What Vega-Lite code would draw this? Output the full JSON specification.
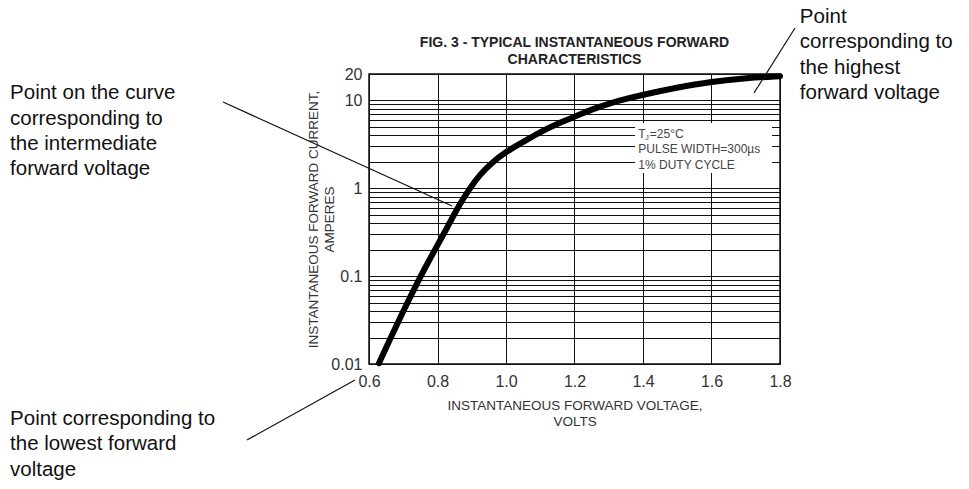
{
  "$schema": "https://vega.github.io/schema/vega-lite/v6.json",
  "width": 411,
  "height": 290,
  "autosize": "none",
  "padding": {"left": 369, "top": 74, "right": 189, "bottom": 125},
  "background": "white",
  "config": {
    "view": {"stroke": "#111", "strokeWidth": 1.5},
    "font": "Liberation Sans"
  },
  "datasets": {
    "curve": [
      {"v": 0.629, "i": 0.0102},
      {"v": 0.665, "i": 0.0205},
      {"v": 0.70, "i": 0.040},
      {"v": 0.744, "i": 0.089},
      {"v": 0.773, "i": 0.145},
      {"v": 0.80, "i": 0.225},
      {"v": 0.832, "i": 0.38},
      {"v": 0.861, "i": 0.62},
      {"v": 0.894, "i": 1.0},
      {"v": 0.923, "i": 1.42},
      {"v": 0.958, "i": 1.95},
      {"v": 1.0, "i": 2.61},
      {"v": 1.046, "i": 3.3},
      {"v": 1.098, "i": 4.35},
      {"v": 1.15, "i": 5.45},
      {"v": 1.2, "i": 6.5},
      {"v": 1.25, "i": 7.9},
      {"v": 1.303, "i": 9.3},
      {"v": 1.35, "i": 10.4},
      {"v": 1.40, "i": 11.6},
      {"v": 1.498, "i": 14.0},
      {"v": 1.60, "i": 16.4},
      {"v": 1.704, "i": 18.0},
      {"v": 1.80, "i": 18.9}
    ],
    "box": [{"v": 1.3767, "v2": 1.7766, "i": 5.54, "i2": 1.494}],
    "legend": [{"v": 1.3863, "i": 3.72}],
    "leaders": [
      {"v": 0.1737, "i": 9.60, "v2": 0.8423, "i2": 0.629},
      {"v": 1.8438, "i": 66.8, "v2": 1.7241, "i2": 12.16},
      {"v": 0.2438, "i": 0.001365, "v2": 0.5591, "i2": 0.00658}
    ],
    "notes": [
      {"v": -0.448, "i": 10.3, "t": "Point on the curve\ncorresponding to\nthe intermediate\nforward voltage"},
      {"v": 1.858, "i": 76.1, "t": "Point\ncorresponding to\nthe highest\nforward voltage"},
      {"v": -0.448, "i": 0.00202, "t": "Point corresponding to\nthe lowest forward\nvoltage"}
    ],
    "title": [{"v": 1.2, "i": 40.07, "t": "FIG. 3 - TYPICAL INSTANTANEOUS FORWARD\nCHARACTERISTICS"}]
  },
  "encoding": {
    "x": {
      "field": "v",
      "type": "quantitative",
      "scale": {"domain": [0.6, 1.8], "nice": false, "zero": false},
      "axis": {
        "values": [0.6, 0.8, 1.0, 1.2, 1.4, 1.6, 1.8],
        "format": ".1f",
        "grid": true,
        "gridColor": "#111",
        "gridOpacity": 1,
        "gridWidth": 1,
        "ticks": false,
        "domain": false,
        "labelFlush": false,
        "labelOverlap": false,
        "labelFont": "Liberation Sans",
        "labelFontSize": 16,
        "labelColor": "#333",
        "labelPadding": 9,
        "title": ["INSTANTANEOUS FORWARD VOLTAGE,", "VOLTS"],
        "titleFont": "Liberation Sans",
        "titleFontSize": 13.5,
        "titleFontWeight": "normal",
        "titleColor": "#333",
        "titleLineHeight": 16,
        "titlePadding": 9
      }
    },
    "y": {
      "field": "i",
      "type": "quantitative",
      "scale": {"type": "log", "domain": [0.01, 20], "nice": false},
      "axis": {
        "values": [0.01, 0.02, 0.03, 0.04, 0.05, 0.06, 0.07, 0.08, 0.09, 0.1, 0.2, 0.3, 0.4, 0.5, 0.6, 0.7, 0.8, 0.9, 1, 2, 3, 4, 5, 6, 7, 8, 9, 10, 20],
        "labelExpr": "datum.value == 0.01 ? '0.01' : datum.value == 0.1 ? '0.1' : datum.value == 1 ? '1' : datum.value == 10 ? '10' : datum.value == 20 ? '20' : ''",
        "grid": true,
        "gridColor": "#111",
        "gridOpacity": 1,
        "gridWidth": 1,
        "ticks": false,
        "domain": false,
        "labelFlush": false,
        "labelOverlap": false,
        "labelFont": "Liberation Sans",
        "labelFontSize": 16,
        "labelColor": "#333",
        "labelPadding": 7,
        "title": ["INSTANTANEOUS FORWARD CURRENT,", "AMPERES"],
        "titleFont": "Liberation Sans",
        "titleFontSize": 13.5,
        "titleFontWeight": "normal",
        "titleColor": "#333",
        "titleLineHeight": 16,
        "titlePadding": -6
      }
    }
  },
  "layer": [
    {
      "data": {"name": "box"},
      "mark": {"type": "rect", "fill": "white", "stroke": null},
      "encoding": {"x2": {"field": "v2"}, "y2": {"field": "i2"}}
    },
    {
      "data": {"name": "legend"},
      "mark": {"type": "text", "align": "left", "baseline": "alphabetic", "fontSize": 12, "font": "Liberation Sans", "color": "#444", "text": "T"},
      "encoding": {}
    },
    {
      "data": {"name": "legend"},
      "mark": {"type": "text", "align": "left", "baseline": "alphabetic", "fontSize": 7, "font": "Liberation Sans", "color": "#444", "text": "J", "dx": 7, "dy": 2},
      "encoding": {}
    },
    {
      "data": {"name": "legend"},
      "mark": {"type": "text", "align": "left", "baseline": "alphabetic", "fontSize": 12, "font": "Liberation Sans", "color": "#444", "text": "=25°C", "dx": 11.5},
      "encoding": {}
    },
    {
      "data": {"name": "legend"},
      "mark": {"type": "text", "align": "left", "baseline": "alphabetic", "fontSize": 12, "font": "Liberation Sans", "color": "#444", "lineBreak": "\n", "lineHeight": 15.3, "text": ["", "PULSE WIDTH=300µs", "1% DUTY CYCLE"]},
      "encoding": {}
    },
    {
      "data": {"name": "curve"},
      "mark": {"type": "line", "color": "black", "strokeWidth": 6, "interpolate": "basis", "strokeCap": "round", "strokeJoin": "round"},
      "encoding": {}
    },
    {
      "data": {"name": "leaders"},
      "mark": {"type": "rule", "color": "#111", "strokeWidth": 1.2},
      "encoding": {"x2": {"field": "v2"}, "y2": {"field": "i2"}}
    },
    {
      "data": {"name": "notes"},
      "mark": {"type": "text", "align": "left", "baseline": "alphabetic", "fontSize": 20.5, "font": "Liberation Sans", "color": "#111", "lineBreak": "\n", "lineHeight": 25.3},
      "encoding": {"text": {"field": "t"}}
    },
    {
      "data": {"name": "title"},
      "mark": {"type": "text", "align": "center", "baseline": "alphabetic", "fontSize": 14, "fontWeight": "bold", "font": "Liberation Sans", "color": "#222", "lineBreak": "\n", "lineHeight": 17},
      "encoding": {"text": {"field": "t"}}
    }
  ]
}
